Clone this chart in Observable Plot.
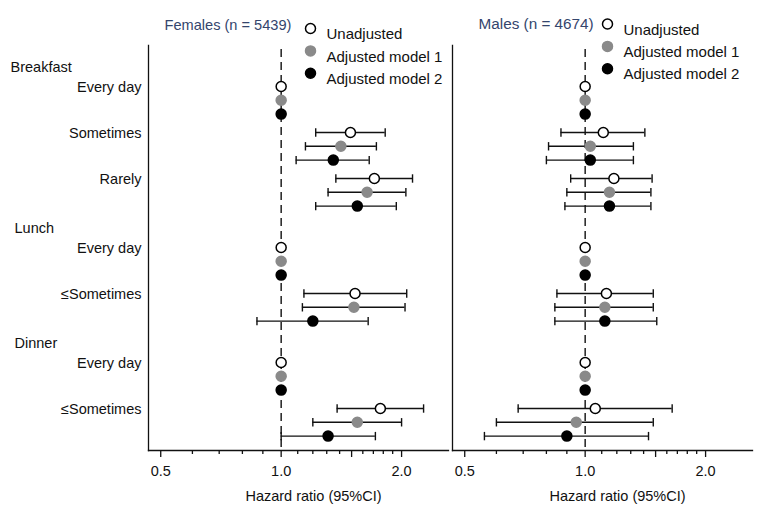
<!DOCTYPE html>
<html><head><meta charset="utf-8">
<script src="https://cdn.jsdelivr.net/npm/d3@7"></script>
<script src="https://cdn.jsdelivr.net/npm/@observablehq/plot@0.6"></script>
<style>body{margin:0;background:#fff}#chart svg{font-family:"Liberation Sans",Arial,sans-serif}</style>
</head><body><div id="chart"></div>
<script>
// ---- data ----
const sexes = ["Females", "Males"];
const sexTitles = ["Females (n = 5439)", "Males (n = 4674)"];
const models = ["Unadjusted", "Adjusted model 1", "Adjusted model 2"];
const meals = ["Breakfast", " Lunch", " Dinner"];
const mealLevels = [["Every day", "Sometimes", "Rarely"], ["Every day", "≤Sometimes"], ["Every day", "≤Sometimes"]];

// rows: Breakfast Every day, Sometimes, Rarely, Lunch Every day, ≤Sometimes, Dinner Every day, ≤Sometimes
const femalesUnadjustedHR = [1, 1.49, 1.71, 1, 1.53, 1, 1.77];
const femalesUnadjustedLo = [null, 1.22, 1.37, null, 1.14, null, 1.38];
const femalesUnadjustedHi = [null, 1.82, 2.13, null, 2.06, null, 2.27];
const femalesModel1HR = [1, 1.41, 1.64, 1, 1.52, 1, 1.55];
const femalesModel1Lo = [null, 1.15, 1.31, null, 1.13, null, 1.20];
const femalesModel1Hi = [null, 1.73, 2.05, null, 2.04, null, 2.00];
const femalesModel2HR = [1, 1.35, 1.55, 1, 1.20, 1, 1.31];
const femalesModel2Lo = [null, 1.09, 1.22, null, 0.87, null, 1.00];
const femalesModel2Hi = [null, 1.66, 1.94, null, 1.65, null, 1.72];

const malesUnadjustedHR = [1, 1.11, 1.18, 1, 1.13, 1, 1.06];
const malesUnadjustedLo = [null, 0.87, 0.92, null, 0.85, null, 0.68];
const malesUnadjustedHi = [null, 1.41, 1.47, null, 1.48, null, 1.65];
const malesModel1HR = [1, 1.03, 1.15, 1, 1.12, 1, 0.95];
const malesModel1Lo = [null, 0.81, 0.90, null, 0.84, null, 0.60];
const malesModel1Hi = [null, 1.32, 1.46, null, 1.48, null, 1.48];
const malesModel2HR = [1, 1.03, 1.15, 1, 1.12, 1, 0.90];
const malesModel2Lo = [null, 0.80, 0.89, null, 0.84, null, 0.56];
const malesModel2Hi = [null, 1.32, 1.46, null, 1.51, null, 1.44];

const majorTicks = [0.5, 1, 1.5, 2];
const labeledTicks = [0.5, 1, 2];
const minorTicks = [0.6, 0.7, 0.8, 0.9, 1.1, 1.2, 1.3, 1.4, 1.6, 1.7, 1.8, 1.9];
const xLabel = "Hazard ratio (95%CI)";

// ---- build tables ----
const series = {
  Females: [[femalesUnadjustedHR, femalesUnadjustedLo, femalesUnadjustedHi],
            [femalesModel1HR, femalesModel1Lo, femalesModel1Hi],
            [femalesModel2HR, femalesModel2Lo, femalesModel2Hi]],
  Males: [[malesUnadjustedHR, malesUnadjustedLo, malesUnadjustedHi],
          [malesModel1HR, malesModel1Lo, malesModel1Hi],
          [malesModel2HR, malesModel2Lo, malesModel2Hi]]
};

// layout of rows: one unit per level, half-unit gap between meals
const rowLabels = [], headers = [];
let pos = 0;
meals.forEach((meal, mi) => {
  headers.push({label: meal, y: pos - 0.42, sex: "Females"});
  mealLevels[mi].forEach(lv => { rowLabels.push({label: lv, y: pos, sex: "Females"}); pos += 1; });
  pos += 0.5;
});

const points = [];
sexes.forEach(sex => {
  series[sex].forEach(([hr, lo, hi], mIdx) => {
    hr.forEach((v, r) => points.push({sex, model: models[mIdx], mIdx, hr: v, lo: lo[r], hi: hi[r], y: rowLabels[r].y + mIdx * 0.3}));
  });
});
const ci = points.filter(d => d.lo != null);

const capSymbol = {draw(ctx, size) { const r = Math.sqrt(size / Math.PI); ctx.moveTo(0, -r); ctx.lineTo(0, r); }};
const modelFill = ["white", "#8a8a8a", "black"];
const modelStroke = ["black", "#8a8a8a", "black"];
const titleColor = "#34456d";
const legendPlace = {
  Females: {cx: 162, tx: 178, y0: -17, tdx: 16, tdy: -26, tsize: 14.6},
  Males: {cx: 155, tx: 171, y0: -21.5, tdx: 26, tdy: -27.5, tsize: 15.3}
};

const marks = [
  Plot.frame({anchor: "left", stroke: "#111", strokeWidth: 1.3}),
  Plot.frame({anchor: "bottom", stroke: "#111", strokeWidth: 1.3}),
  Plot.ruleX([1], {stroke: "#111", strokeWidth: 1.4, strokeDasharray: "8,5", insetTop: 4}),
  Plot.axisX({ticks: majorTicks, tickSize: 7, tickFormat: () => "", stroke: "#111", strokeWidth: 1.3}),
  Plot.axisX({ticks: minorTicks, tickSize: 4, tickFormat: () => "", stroke: "#111", strokeWidth: 1.3}),
  Plot.axisX({ticks: labeledTicks, tickSize: 0, tickPadding: 15, tickFormat: d3.format(".1f"), fill: "#111", fontSize: 14.5}),
  Plot.text(sexes, {fx: d => d, frameAnchor: "bottom", text: () => xLabel, dy: 50, dx: 15, fontSize: 14.5, fill: "#111"}),
  Plot.ruleY(ci, {fx: "sex", y: "y", x1: "lo", x2: "hi", stroke: "#111", strokeWidth: 1.4}),
  Plot.dot(ci, {fx: "sex", y: "y", x: "lo", symbol: capSymbol, r: 4.2, fill: "none", stroke: "#111", strokeWidth: 1.4}),
  Plot.dot(ci, {fx: "sex", y: "y", x: "hi", symbol: capSymbol, r: 4.2, fill: "none", stroke: "#111", strokeWidth: 1.4}),
  ...models.map((m, i) => Plot.dot(points.filter(d => d.mIdx === i), {fx: "sex", x: "hr", y: "y", r: 5, fill: modelFill[i], stroke: modelStroke[i], strokeWidth: 1.5})),
  Plot.text(rowLabels, {fx: "sex", y: "y", text: "label", frameAnchor: "left", textAnchor: "end", dx: -7, dy: 1, fontSize: 14.5, fill: "#111"}),
  Plot.text(headers, {fx: "sex", y: "y", text: "label", frameAnchor: "left", textAnchor: "start", dx: -138, fontSize: 14.5, fill: "#111"}),
  ...sexes.map((s, si) => Plot.text([s], {fx: d => d, text: () => sexTitles[si], frameAnchor: "top-left", textAnchor: "start", dx: legendPlace[s].tdx, dy: legendPlace[s].tdy, fill: titleColor, fontSize: legendPlace[s].tsize})),
  ...sexes.flatMap(s => models.flatMap((m, i) => [
    Plot.dot([s], {fx: d => d, frameAnchor: "top-left", dx: legendPlace[s].cx, dy: legendPlace[s].y0 + i * 22.4, r: 5, fill: modelFill[i], stroke: modelStroke[i], strokeWidth: 1.5}),
    Plot.text([s], {fx: d => d, frameAnchor: "top-left", text: () => m, textAnchor: "start", dx: legendPlace[s].tx, dy: legendPlace[s].y0 + i * 22.4, fontSize: 15, fill: "#111"})
  ]))
];

const chart = Plot.plot({
  width: 760, height: 515,
  marginLeft: 148, marginRight: 8, marginTop: 45, marginBottom: 65,
  fx: {domain: sexes, axis: null, paddingInner: 4 / 304, paddingOuter: 0},
  x: {type: "log", domain: [0.466, 2.62], axis: null},
  y: {domain: [-0.891, 7.913], reverse: true, axis: null},
  style: {fontFamily: "Liberation Sans, Arial, sans-serif", fontSize: "14.5px", background: "white", color: "#111"},
  marks
});
document.getElementById("chart").append(chart);
</script>
</body></html>
